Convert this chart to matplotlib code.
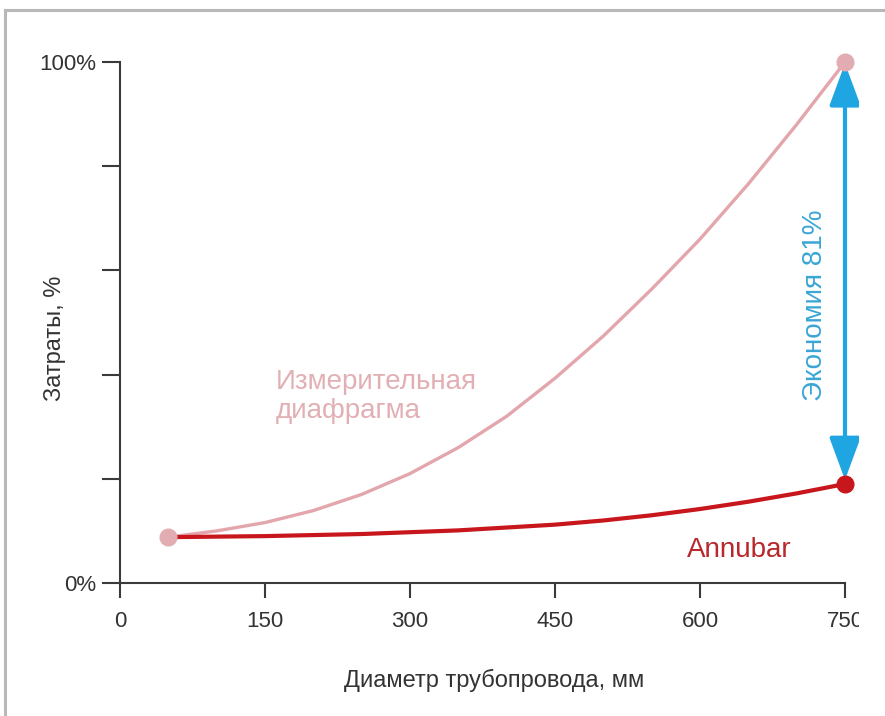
import matplotlib.pyplot as plt
from matplotlib.lines import Line2D
from matplotlib.patches import Rectangle

plt.rcParams['font.family'] = ['Liberation Sans', 'DejaVu Sans']

# данные
diam_orifice = [50, 100, 150, 200, 250, 300, 350, 400, 450, 500, 550, 600, 650, 700, 750]
cost_orifice = [8.8, 10.0, 11.6, 13.9, 17.0, 21.0, 26.0, 32.0, 39.3, 47.4, 56.4, 66.0, 76.6, 88.0, 100.0]

diam_annubar = [50, 150, 250, 350, 450, 500, 550, 600, 650, 700, 750]
cost_annubar = [8.8, 9.0, 9.4, 10.1, 11.2, 12.0, 13.0, 14.2, 15.6, 17.2, 19.0]

x_ticks = [0, 150, 300, 450, 600, 750]
y_ticks = [0, 20, 40, 60, 80, 100]
y_tick_labels = ['0%', '', '', '', '', '100%']

saving_label = 'Экономия 81%'

PINK = '#e3a6ac'
PINK_TEXT = '#e2b0b4'
RED = '#c8161d'
RED_TEXT = '#b8282c'
BLUE = '#1ea5e2'
BLUE_TEXT = '#3aa6d6'
AXIS = '#3a3a3a'

W, H = 885, 716
fig = plt.figure(figsize=(W / 100, H / 100), dpi=100)
ax = fig.add_axes([120 / W, 133 / H, 725 / W, 521 / H])

ax.plot(diam_orifice, cost_orifice, color=PINK, lw=2.4, solid_capstyle='round',
        solid_joinstyle='round', zorder=3)
ax.plot(diam_annubar, cost_annubar, color=RED, lw=3.0, solid_capstyle='round',
        solid_joinstyle='round', zorder=4)

# точки на концах кривых
ax.plot([diam_orifice[0]], [cost_orifice[0]], 'o', ms=12, color='#e2adb2', zorder=6, clip_on=False)
ax.plot([diam_orifice[-1]], [cost_orifice[-1]], 'o', ms=12, color='#e2adb2', zorder=6, clip_on=False)
ax.plot([diam_annubar[-1]], [cost_annubar[-1]], 'o', ms=12, color=RED, zorder=6, clip_on=False)

# стрелка экономии
ax.annotate('', xy=(diam_orifice[-1], cost_orifice[-1]), xytext=(diam_annubar[-1], cost_annubar[-1]),
            arrowprops=dict(arrowstyle='<|-|>,head_length=1.3,head_width=0.48', mutation_scale=20,
                            color=BLUE, lw=3, shrinkA=3, shrinkB=1),
            zorder=5, annotation_clip=False)

ax.text(719, 53.4, saving_label, rotation=90, ha='center', va='center',
        fontsize=20, color=BLUE_TEXT)
ax.text(161, 35.8, 'Измерительная\nдиафрагма', ha='left', va='center',
        fontsize=20, color=PINK_TEXT, linespacing=1.12)
ax.text(587, 5.0, 'Annubar', ha='left', va='baseline', fontsize=20, color=RED_TEXT)

ax.set_xlim(0, 750)
ax.set_ylim(0, 100)
ax.set_xticks(x_ticks)
ax.set_yticks(y_ticks)
ax.set_yticklabels(y_tick_labels)

for side in ['top', 'right']:
    ax.spines[side].set_visible(False)
for side in ['left', 'bottom']:
    ax.spines[side].set_color(AXIS)
    ax.spines[side].set_linewidth(1.5)

ax.tick_params(axis='y', direction='out', length=13, width=1.5, color=AXIS,
               labelsize=16, labelcolor='#333333', pad=4)
ax.tick_params(axis='x', direction='out', length=11, width=1.5, color=AXIS,
               labelsize=16, labelcolor='#333333', pad=9)

fig.text(55 / W, 1 - 338 / H, 'Затраты, %', rotation=90, ha='center', va='center',
         fontsize=17, color='#333333')
fig.text(494 / W, 1 - 680 / H, 'Диаметр трубопровода, мм', ha='center', va='center',
         fontsize=17, color='#333333')

# белая полоса справа (обрезка как в оригинале) и серая рамка
fig.patches.append(Rectangle((859 / W, 0), 1, 1 - 13 / H, transform=fig.transFigure,
                             facecolor='white', edgecolor='none', zorder=10))
fig.lines.append(Line2D([5 / W, 1], [1 - 10 / H, 1 - 10 / H], transform=fig.transFigure,
                        color='#b8b8b8', lw=2.2, zorder=11))
fig.lines.append(Line2D([5 / W, 5 / W], [0, 1 - 10 / H], transform=fig.transFigure,
                        color='#b8b8b8', lw=2.2, zorder=11))

fig.savefig('out.png', dpi=100)
plt.close(fig)
